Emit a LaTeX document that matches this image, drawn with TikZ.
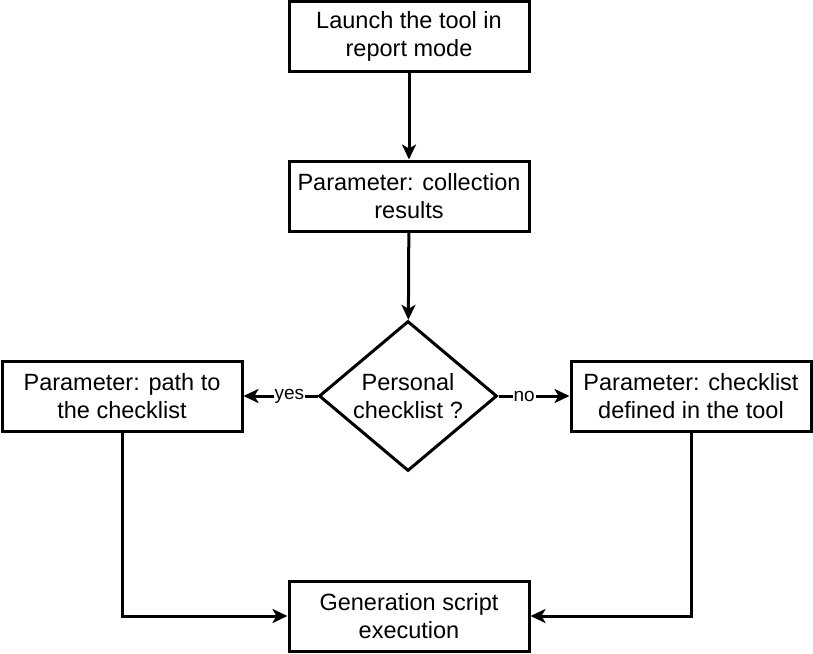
\documentclass[tikz,border=0pt]{standalone}
\usepackage{fontspec}
\setmainfont{Liberation Sans}
\usetikzlibrary{shapes.geometric,arrows.meta}
\begin{document}
\begin{tikzpicture}[x=1pt,y=-1pt,
  every node/.style={font=\fontsize{23.5}{28}\selectfont, align=center},
  stepbox/.style={draw, line width=3pt, minimum width=240pt, minimum height=70pt, inner sep=0pt},
  decision/.style={draw, diamond, line width=3pt, minimum width=178pt, minimum height=150pt, inner sep=0pt, aspect=1.19},
  conn/.style={line width=3pt, -{Stealth[length=15pt,width=14pt,inset=4pt]}},
  lbl/.style={fill=white, inner sep=1pt, font=\fontsize{19}{22}\selectfont}]
\useasboundingbox (0,0) rectangle (813,653);
\node[stepbox] (launch) at (409,36) {Launch the tool in\\report mode};
\node[stepbox] (coll) at (409,196) {Parameter: collection\\results};
\node[decision] (dec) at (408,396) {Personal\\checklist ?};
\node[stepbox] (path) at (122,396) {Parameter: path to\\the checklist};
\node[stepbox] (def) at (691,396) {Parameter: checklist\\defined in the tool};
\node[stepbox] (gen) at (409,616) {Generation script\\execution};
\draw[conn] (launch) -- (coll);
\draw[conn] (coll) -- (dec);
\draw[conn] (dec.west) -- node[lbl, pos=0.38] {yes} (path.east);
\draw[conn] (dec.east) -- node[lbl, pos=0.36] {no} (def.west);
\draw[conn] (path.south) |- (gen.west);
\draw[conn] (def.south) |- (gen.east);
\end{tikzpicture}
\end{document}
